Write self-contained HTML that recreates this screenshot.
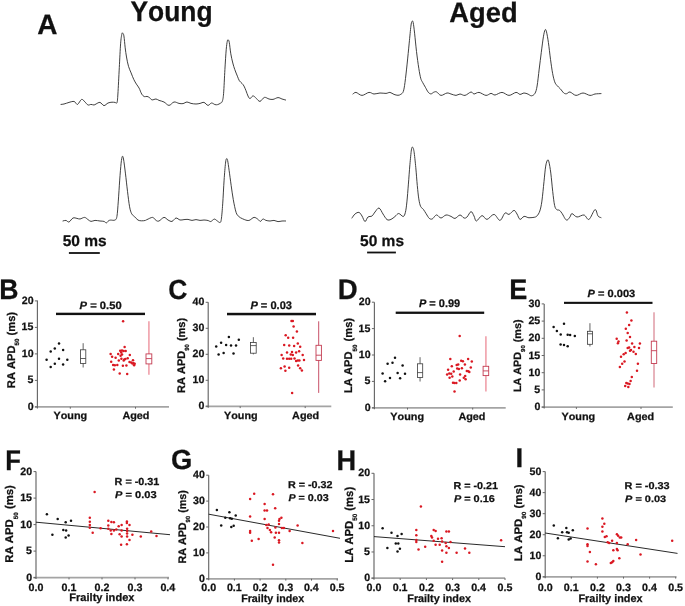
<!DOCTYPE html>
<html><head><meta charset="utf-8"><title>Figure</title>
<style>
html,body{margin:0;padding:0;background:#fff;}
body{width:685px;height:606px;overflow:hidden;}
svg{display:block;will-change:transform;font-family:"Liberation Sans", sans-serif;font-weight:bold;font-kerning:none;}
text{font-kerning:none;text-rendering:geometricPrecision;stroke:#111;stroke-width:0.25px;}
</style></head>
<body>
<svg width="685" height="606" viewBox="0 0 685 606">
<rect width="685" height="606" fill="#fff"/>
<path d="M61.00,104.40 C61.50,104.33 62.67,104.33 64.00,104.00 C65.33,103.67 67.50,102.83 69.00,102.40 C70.50,101.97 72.00,101.47 73.00,101.40 C74.00,101.33 74.23,101.50 75.00,102.00 C75.77,102.50 76.50,104.83 77.60,104.40 C78.70,103.97 80.37,99.80 81.60,99.40 C82.83,99.00 83.93,101.07 85.00,102.00 C86.07,102.93 87.00,104.60 88.00,105.00 C89.00,105.40 90.00,104.40 91.00,104.40 C92.00,104.40 93.17,105.07 94.00,105.00 C94.83,104.93 95.00,104.43 96.00,104.00 C97.00,103.57 98.67,102.13 100.00,102.40 C101.33,102.67 102.67,105.50 104.00,105.60 C105.33,105.70 106.67,103.57 108.00,103.00 C109.33,102.43 110.83,102.30 112.00,102.20 C113.17,102.10 114.17,102.33 115.00,102.40 C115.83,102.47 116.52,104.00 117.00,102.60 C117.48,101.20 117.52,99.83 117.90,94.00 C118.28,88.17 118.85,75.97 119.30,67.60 C119.75,59.23 120.17,49.42 120.60,43.80 C121.03,38.18 121.53,35.65 121.90,33.90 C122.27,32.15 122.47,32.97 122.80,33.30 C123.13,33.63 123.50,33.48 123.90,35.90 C124.30,38.32 124.77,44.28 125.20,47.80 C125.63,51.32 125.95,53.92 126.50,57.00 C127.05,60.08 127.73,63.65 128.50,66.30 C129.27,68.95 130.22,70.70 131.10,72.90 C131.98,75.10 132.92,77.63 133.80,79.50 C134.68,81.37 135.52,82.67 136.40,84.10 C137.28,85.53 138.22,86.45 139.10,88.10 C139.98,89.75 140.83,92.58 141.70,94.00 C142.57,95.42 143.42,96.20 144.30,96.60 C145.18,97.00 146.12,96.22 147.00,96.40 C147.88,96.58 148.77,97.12 149.60,97.70 C150.43,98.28 150.93,99.68 152.00,99.90 C153.07,100.12 154.83,98.92 156.00,99.00 C157.17,99.08 157.67,99.90 159.00,100.40 C160.33,100.90 162.33,101.17 164.00,102.00 C165.67,102.83 167.33,105.40 169.00,105.40 C170.67,105.40 172.33,102.33 174.00,102.00 C175.67,101.67 177.50,103.13 179.00,103.40 C180.50,103.67 181.67,103.83 183.00,103.60 C184.33,103.37 185.67,102.03 187.00,102.00 C188.33,101.97 189.50,103.07 191.00,103.40 C192.50,103.73 194.50,104.00 196.00,104.00 C197.50,104.00 198.67,103.67 200.00,103.40 C201.33,103.13 202.67,102.07 204.00,102.40 C205.33,102.73 206.75,105.30 208.00,105.40 C209.25,105.50 210.33,103.13 211.50,103.00 C212.67,102.87 213.98,104.33 215.00,104.60 C216.02,104.87 216.72,104.82 217.60,104.60 C218.48,104.38 219.52,103.85 220.30,103.30 C221.08,102.75 221.75,102.95 222.30,101.30 C222.85,99.65 223.17,98.68 223.60,93.40 C224.03,88.12 224.47,76.87 224.90,69.60 C225.33,62.33 225.80,54.53 226.20,49.80 C226.60,45.07 226.97,42.85 227.30,41.20 C227.63,39.55 227.87,39.68 228.20,39.90 C228.53,40.12 228.87,40.18 229.30,42.50 C229.73,44.82 230.22,50.38 230.80,53.80 C231.38,57.22 232.13,60.37 232.80,63.00 C233.47,65.63 234.03,67.40 234.80,69.60 C235.57,71.80 236.63,74.33 237.40,76.20 C238.17,78.07 238.62,79.58 239.40,80.80 C240.18,82.02 241.33,82.62 242.10,83.50 C242.87,84.38 243.35,84.90 244.00,86.10 C244.65,87.30 245.33,89.05 246.00,90.70 C246.67,92.35 247.33,94.68 248.00,96.00 C248.67,97.32 249.23,98.60 250.00,98.60 C250.77,98.60 251.83,96.32 252.60,96.00 C253.37,95.68 253.95,96.27 254.60,96.70 C255.25,97.13 255.60,97.82 256.50,98.60 C257.40,99.38 258.68,101.60 260.00,101.40 C261.32,101.20 262.90,97.80 264.40,97.40 C265.90,97.00 267.57,98.67 269.00,99.00 C270.43,99.33 271.50,99.63 273.00,99.40 C274.50,99.17 276.50,97.67 278.00,97.60 C279.50,97.53 280.73,98.60 282.00,99.00 C283.27,99.40 285.00,99.83 285.60,100.00" fill="none" stroke="#2a2a2a" stroke-width="0.9" stroke-linejoin="round" stroke-linecap="round"/>
<path d="M353.00,94.00 C353.50,93.73 354.50,92.17 356.00,92.40 C357.50,92.63 359.83,95.40 362.00,95.40 C364.17,95.40 367.00,92.63 369.00,92.40 C371.00,92.17 372.17,93.90 374.00,94.00 C375.83,94.10 378.00,93.10 380.00,93.00 C382.00,92.90 384.33,93.50 386.00,93.40 C387.67,93.30 388.67,92.23 390.00,92.40 C391.33,92.57 392.67,93.92 394.00,94.40 C395.33,94.88 396.87,95.32 398.00,95.30 C399.13,95.28 399.92,94.93 400.80,94.30 C401.68,93.67 402.60,93.48 403.30,91.50 C404.00,89.52 404.37,86.97 405.00,82.40 C405.63,77.83 406.40,70.65 407.10,64.10 C407.80,57.55 408.57,49.42 409.20,43.10 C409.83,36.78 410.43,29.83 410.90,26.20 C411.37,22.57 411.62,21.88 412.00,21.30 C412.38,20.72 412.77,20.72 413.20,22.70 C413.63,24.68 414.05,28.40 414.60,33.20 C415.15,38.00 415.80,45.65 416.50,51.50 C417.20,57.35 418.10,63.85 418.80,68.30 C419.50,72.75 420.07,75.85 420.70,78.20 C421.33,80.55 421.82,80.88 422.60,82.40 C423.38,83.92 424.47,85.67 425.40,87.30 C426.33,88.93 427.27,91.10 428.20,92.20 C429.13,93.30 430.07,93.90 431.00,93.90 C431.93,93.90 432.87,92.53 433.80,92.20 C434.73,91.87 435.40,91.37 436.60,91.90 C437.80,92.43 439.27,95.22 441.00,95.40 C442.73,95.58 445.33,93.23 447.00,93.00 C448.67,92.77 449.50,93.60 451.00,94.00 C452.50,94.40 454.50,95.40 456.00,95.40 C457.50,95.40 458.50,94.00 460.00,94.00 C461.50,94.00 463.17,95.73 465.00,95.40 C466.83,95.07 469.50,92.23 471.00,92.00 C472.50,91.77 472.67,93.93 474.00,94.00 C475.33,94.07 477.00,92.17 479.00,92.40 C481.00,92.63 484.00,95.23 486.00,95.40 C488.00,95.57 489.50,93.47 491.00,93.40 C492.50,93.33 493.17,95.17 495.00,95.00 C496.83,94.83 499.67,92.33 502.00,92.40 C504.33,92.47 506.67,95.40 509.00,95.40 C511.33,95.40 514.17,92.57 516.00,92.40 C517.83,92.23 518.67,94.30 520.00,94.40 C521.33,94.50 522.67,93.05 524.00,93.00 C525.33,92.95 526.75,93.63 528.00,94.10 C529.25,94.57 530.33,95.93 531.50,95.80 C532.67,95.67 534.07,94.93 535.00,93.30 C535.93,91.67 536.40,90.03 537.10,86.00 C537.80,81.97 538.50,74.72 539.20,69.10 C539.90,63.48 540.60,57.68 541.30,52.30 C542.00,46.92 542.77,40.55 543.40,36.80 C544.03,33.05 544.58,30.62 545.10,29.80 C545.62,28.98 545.95,29.78 546.50,31.90 C547.05,34.02 547.73,37.93 548.40,42.50 C549.07,47.07 549.80,54.17 550.50,59.30 C551.20,64.43 551.90,69.55 552.60,73.30 C553.30,77.05 554.00,79.80 554.70,81.80 C555.40,83.80 555.87,84.13 556.80,85.30 C557.73,86.47 559.13,87.52 560.30,88.80 C561.47,90.08 562.75,92.18 563.80,93.00 C564.85,93.82 565.57,93.87 566.60,93.70 C567.63,93.53 568.43,91.72 570.00,92.00 C571.57,92.28 573.83,95.23 576.00,95.40 C578.17,95.57 580.67,93.00 583.00,93.00 C585.33,93.00 588.00,95.23 590.00,95.40 C592.00,95.57 593.17,94.30 595.00,94.00 C596.83,93.70 600.00,93.67 601.00,93.60" fill="none" stroke="#2a2a2a" stroke-width="0.9" stroke-linejoin="round" stroke-linecap="round"/>
<path d="M63.00,221.00 C63.50,220.90 65.00,220.23 66.00,220.40 C67.00,220.57 67.83,222.40 69.00,222.00 C70.17,221.60 71.67,218.60 73.00,218.00 C74.33,217.40 75.83,218.23 77.00,218.40 C78.17,218.57 78.73,219.17 80.00,219.00 C81.27,218.83 83.27,217.30 84.60,217.40 C85.93,217.50 86.93,218.93 88.00,219.60 C89.07,220.27 89.83,221.27 91.00,221.40 C92.17,221.53 93.50,220.47 95.00,220.40 C96.50,220.33 98.50,220.83 100.00,221.00 C101.50,221.17 102.93,221.08 104.00,221.40 C105.07,221.72 105.65,223.00 106.40,222.90 C107.15,222.80 107.80,221.27 108.50,220.80 C109.20,220.33 109.55,220.22 110.60,220.10 C111.65,219.98 113.75,220.68 114.80,220.10 C115.85,219.52 116.32,219.77 116.90,216.60 C117.48,213.43 117.83,207.18 118.30,201.10 C118.77,195.02 119.23,186.42 119.70,180.10 C120.17,173.78 120.67,167.13 121.10,163.20 C121.53,159.27 121.90,157.20 122.30,156.50 C122.70,155.80 122.98,156.23 123.50,159.00 C124.02,161.77 124.73,167.72 125.40,173.10 C126.07,178.48 126.80,185.68 127.50,191.30 C128.20,196.92 128.90,203.05 129.60,206.80 C130.30,210.55 130.88,212.17 131.70,213.80 C132.52,215.43 133.45,215.55 134.50,216.60 C135.55,217.65 136.83,219.40 138.00,220.10 C139.17,220.80 140.33,220.73 141.50,220.80 C142.67,220.87 144.08,220.70 145.00,220.50 C145.92,220.30 145.73,220.12 147.00,219.60 C148.27,219.08 151.10,217.27 152.60,217.40 C154.10,217.53 154.93,219.80 156.00,220.40 C157.07,221.00 157.67,221.50 159.00,221.00 C160.33,220.50 162.50,217.57 164.00,217.40 C165.50,217.23 166.67,219.33 168.00,220.00 C169.33,220.67 170.67,221.73 172.00,221.40 C173.33,221.07 174.67,218.23 176.00,218.00 C177.33,217.77 178.67,219.73 180.00,220.00 C181.33,220.27 182.67,219.70 184.00,219.60 C185.33,219.50 186.67,219.27 188.00,219.40 C189.33,219.53 190.67,220.37 192.00,220.40 C193.33,220.43 194.67,219.60 196.00,219.60 C197.33,219.60 198.67,220.33 200.00,220.40 C201.33,220.47 202.67,219.98 204.00,220.00 C205.33,220.02 206.87,220.25 208.00,220.50 C209.13,220.75 209.75,221.73 210.80,221.50 C211.85,221.27 213.25,219.22 214.30,219.10 C215.35,218.98 216.17,220.23 217.10,220.80 C218.03,221.37 219.20,222.73 219.90,222.50 C220.60,222.27 220.83,222.50 221.30,219.40 C221.77,216.30 222.23,210.45 222.70,203.90 C223.17,197.35 223.63,186.88 224.10,180.10 C224.57,173.32 225.10,166.75 225.50,163.20 C225.90,159.65 226.15,159.27 226.50,158.80 C226.85,158.33 227.17,158.48 227.60,160.40 C228.03,162.32 228.50,166.08 229.10,170.30 C229.70,174.52 230.50,180.80 231.20,185.70 C231.90,190.60 232.48,195.25 233.30,199.70 C234.12,204.15 235.17,209.58 236.10,212.40 C237.03,215.22 237.85,215.55 238.90,216.60 C239.95,217.65 241.23,218.12 242.40,218.70 C243.57,219.28 244.97,219.80 245.90,220.10 C246.83,220.40 247.32,220.52 248.00,220.50 C248.68,220.48 249.00,220.52 250.00,220.00 C251.00,219.48 252.73,217.57 254.00,217.40 C255.27,217.23 256.53,218.33 257.60,219.00 C258.67,219.67 259.50,221.40 260.40,221.40 C261.30,221.40 262.07,219.17 263.00,219.00 C263.93,218.83 264.83,220.07 266.00,220.40 C267.17,220.73 268.67,221.00 270.00,221.00 C271.33,221.00 272.67,220.30 274.00,220.40 C275.33,220.50 276.67,221.50 278.00,221.60 C279.33,221.70 280.73,221.10 282.00,221.00 C283.27,220.90 285.00,221.00 285.60,221.00" fill="none" stroke="#2a2a2a" stroke-width="0.9" stroke-linejoin="round" stroke-linecap="round"/>
<path d="M352.00,218.00 C352.50,217.33 353.83,214.93 355.00,214.00 C356.17,213.07 357.83,212.07 359.00,212.40 C360.17,212.73 361.00,214.47 362.00,216.00 C363.00,217.53 364.00,221.43 365.00,221.60 C366.00,221.77 366.83,217.93 368.00,217.00 C369.17,216.07 370.83,216.83 372.00,216.00 C373.17,215.17 373.83,213.33 375.00,212.00 C376.17,210.67 377.67,207.67 379.00,208.00 C380.33,208.33 381.67,212.07 383.00,214.00 C384.33,215.93 385.67,218.70 387.00,219.60 C388.33,220.50 389.67,219.92 391.00,219.40 C392.33,218.88 393.72,217.48 395.00,216.50 C396.28,215.52 397.33,213.50 398.70,213.50 C400.07,213.50 402.08,216.70 403.20,216.50 C404.32,216.30 404.78,214.73 405.40,212.30 C406.02,209.87 406.40,206.60 406.90,201.90 C407.40,197.20 407.90,190.30 408.40,184.10 C408.90,177.90 409.40,170.40 409.90,164.70 C410.40,159.00 410.97,152.82 411.40,149.90 C411.83,146.98 412.07,146.95 412.50,147.20 C412.93,147.45 413.45,147.98 414.00,151.40 C414.55,154.82 415.25,162.00 415.80,167.70 C416.35,173.40 416.80,180.40 417.30,185.60 C417.80,190.80 418.25,195.43 418.80,198.90 C419.35,202.37 419.85,204.67 420.60,206.40 C421.35,208.13 422.37,208.07 423.30,209.30 C424.23,210.53 425.22,212.30 426.20,213.80 C427.18,215.30 428.20,217.43 429.20,218.30 C430.20,219.17 431.23,219.38 432.20,219.00 C433.17,218.62 434.20,216.67 435.00,216.00 C435.80,215.33 436.00,214.67 437.00,215.00 C438.00,215.33 439.50,218.00 441.00,218.00 C442.50,218.00 444.33,215.27 446.00,215.00 C447.67,214.73 449.50,215.83 451.00,216.40 C452.50,216.97 453.50,218.63 455.00,218.40 C456.50,218.17 458.50,215.07 460.00,215.00 C461.50,214.93 462.83,217.67 464.00,218.00 C465.17,218.33 465.83,218.07 467.00,217.00 C468.17,215.93 469.83,211.77 471.00,211.60 C472.17,211.43 473.10,214.43 474.00,216.00 C474.90,217.57 475.07,221.07 476.40,221.00 C477.73,220.93 480.23,215.87 482.00,215.60 C483.77,215.33 485.00,219.60 487.00,219.40 C489.00,219.20 491.83,214.23 494.00,214.40 C496.17,214.57 498.17,220.63 500.00,220.40 C501.83,220.17 503.50,214.00 505.00,213.00 C506.50,212.00 507.50,214.83 509.00,214.40 C510.50,213.97 512.67,210.47 514.00,210.40 C515.33,210.33 516.00,212.50 517.00,214.00 C518.00,215.50 518.83,219.00 520.00,219.40 C521.17,219.80 522.67,216.70 524.00,216.40 C525.33,216.10 527.00,217.38 528.00,217.60 C529.00,217.82 528.97,217.75 530.00,217.70 C531.03,217.65 533.03,217.60 534.20,217.30 C535.37,217.00 536.07,216.95 537.00,215.90 C537.93,214.85 538.98,213.47 539.80,211.00 C540.62,208.53 541.20,206.02 541.90,201.10 C542.60,196.18 543.37,187.33 544.00,181.50 C544.63,175.67 545.12,169.65 545.70,166.10 C546.28,162.55 546.97,160.92 547.50,160.20 C548.03,159.48 548.35,159.65 548.90,161.80 C549.45,163.95 550.17,168.18 550.80,173.10 C551.43,178.02 552.07,185.92 552.70,191.30 C553.33,196.68 553.93,202.35 554.60,205.40 C555.27,208.45 555.88,208.78 556.70,209.60 C557.52,210.42 558.57,209.60 559.50,210.30 C560.43,211.00 561.37,212.40 562.30,213.80 C563.23,215.20 564.28,217.65 565.10,218.70 C565.92,219.75 566.38,220.40 567.20,220.10 C568.02,219.80 569.20,217.98 570.00,216.90 C570.80,215.82 570.83,213.58 572.00,213.60 C573.17,213.62 575.00,216.77 577.00,217.00 C579.00,217.23 582.00,214.60 584.00,215.00 C586.00,215.40 587.17,220.30 589.00,219.40 C590.83,218.50 593.50,210.17 595.00,209.60 C596.50,209.03 597.00,214.67 598.00,216.00 C599.00,217.33 600.50,217.33 601.00,217.60" fill="none" stroke="#2a2a2a" stroke-width="0.9" stroke-linejoin="round" stroke-linecap="round"/>
<text transform="translate(37.30,33.50) scale(0.9989,1)" font-size="28.05" fill="#111">A</text>
<text transform="translate(130.45,20.60) scale(1,1.0708)" font-size="26.40" fill="#111">Young</text>
<text transform="translate(449.32,21.60) scale(1,1.0271)" font-size="27.31" fill="#111">Aged</text>
<text transform="translate(62.72,246.35) scale(0.9991,1)" font-size="15.54" fill="#111">50 ms</text>
<text transform="translate(360.02,245.75) scale(0.9991,1)" font-size="15.54" fill="#111">50 ms</text>
<rect x="68.9" y="252.1" width="30.9" height="1.8" fill="#111"/>
<rect x="367.1" y="251.6" width="28.8" height="1.8" fill="#111"/>
<text transform="translate(-0.63,298.70) scale(0.9449,1)" font-size="28.20" fill="#111">B</text>
<line x1="34.9" y1="406.9" x2="169" y2="406.9" stroke="#a4a4a4" stroke-width="1.7"/>
<line x1="37.4" y1="300.6" x2="37.4" y2="408.4" stroke="#666666" stroke-width="1.15"/>
<line x1="34.9" y1="406.9" x2="37.4" y2="406.9" stroke="#666666" stroke-width="1"/>
<text transform="translate(27.64,410.05) scale(1.0000,1)" font-size="10.60" fill="#111">0</text>
<line x1="34.9" y1="380.4" x2="37.4" y2="380.4" stroke="#666666" stroke-width="1"/>
<text transform="translate(27.50,383.49) scale(1.0000,1)" font-size="10.60" fill="#111">5</text>
<line x1="34.9" y1="353.9" x2="37.4" y2="353.9" stroke="#666666" stroke-width="1"/>
<text transform="translate(21.74,357.05) scale(1.0000,1)" font-size="10.60" fill="#111">10</text>
<line x1="34.9" y1="327.4" x2="37.4" y2="327.4" stroke="#666666" stroke-width="1"/>
<text transform="translate(21.60,330.49) scale(1.0000,1)" font-size="10.60" fill="#111">15</text>
<line x1="34.9" y1="300.9" x2="37.4" y2="300.9" stroke="#666666" stroke-width="1"/>
<text transform="translate(21.74,304.05) scale(1.0000,1)" font-size="10.60" fill="#111">20</text>
<line x1="70.3" y1="406.9" x2="70.3" y2="408.7" stroke="#666666" stroke-width="1"/>
<line x1="135.5" y1="406.9" x2="135.5" y2="408.7" stroke="#666666" stroke-width="1"/>
<text transform="translate(53.52,419.09) scale(1.0380,1)" font-size="10.44" fill="#111">Young</text>
<text transform="translate(122.38,419.09) scale(1.0380,1)" font-size="10.44" fill="#111">Aged</text>
<text transform="translate(14.90,388.15) rotate(-90) scale(0.9962,1)" font-size="11.19" fill="#111">RA APD<tspan font-size="6.16" dy="4.48">50</tspan><tspan dy="-4.48"> (ms)</tspan></text>
<rect x="56" y="312.7" width="89" height="2.400000000000034" fill="#111"/>
<text transform="translate(79.60,308.60) scale(1.0465,1)" font-size="10.73" fill="#111"><tspan font-style="italic">P</tspan> = 0.50</text>
<circle cx="46.6" cy="359.7" r="1.25" fill="#111"/>
<circle cx="50.7" cy="351.6" r="1.25" fill="#111"/>
<circle cx="50.7" cy="367.1" r="1.25" fill="#111"/>
<circle cx="54.8" cy="348.6" r="1.25" fill="#111"/>
<circle cx="54.8" cy="363.8" r="1.25" fill="#111"/>
<circle cx="59" cy="343.6" r="1.25" fill="#111"/>
<circle cx="59" cy="358.8" r="1.25" fill="#111"/>
<circle cx="63.1" cy="350" r="1.25" fill="#111"/>
<circle cx="63.1" cy="364.6" r="1.25" fill="#111"/>
<circle cx="67.3" cy="359.7" r="1.25" fill="#111"/>
<line x1="83.15" y1="343.2" x2="83.15" y2="349.8" stroke="#3a3a3a" stroke-width="0.8"/>
<line x1="83.15" y1="363.5" x2="83.15" y2="367.5" stroke="#3a3a3a" stroke-width="0.8"/>
<rect x="80.5" y="349.8" width="5.299999999999997" height="13.699999999999989" fill="none" stroke="#3a3a3a" stroke-width="0.8"/>
<line x1="80.5" y1="358.5" x2="85.8" y2="358.5" stroke="#3a3a3a" stroke-width="0.8"/>
<circle cx="123.1" cy="321.3" r="1.25" fill="#da1822"/>
<circle cx="124.6" cy="347" r="1.25" fill="#da1822"/>
<circle cx="120.2" cy="350.7" r="1.25" fill="#da1822"/>
<circle cx="122" cy="350.5" r="1.25" fill="#da1822"/>
<circle cx="123.7" cy="351" r="1.25" fill="#da1822"/>
<circle cx="125.7" cy="351" r="1.25" fill="#da1822"/>
<circle cx="121.2" cy="352.5" r="1.25" fill="#da1822"/>
<circle cx="110.6" cy="353.9" r="1.25" fill="#da1822"/>
<circle cx="118.2" cy="353.9" r="1.25" fill="#da1822"/>
<circle cx="122" cy="354.5" r="1.25" fill="#da1822"/>
<circle cx="120.6" cy="355.7" r="1.25" fill="#da1822"/>
<circle cx="129.8" cy="355.1" r="1.25" fill="#da1822"/>
<circle cx="112.1" cy="356.8" r="1.25" fill="#da1822"/>
<circle cx="115.6" cy="357.7" r="1.25" fill="#da1822"/>
<circle cx="127.7" cy="358.3" r="1.25" fill="#da1822"/>
<circle cx="121.4" cy="358.8" r="1.25" fill="#da1822"/>
<circle cx="124.3" cy="359.5" r="1.25" fill="#da1822"/>
<circle cx="125.4" cy="359.1" r="1.25" fill="#da1822"/>
<circle cx="118.8" cy="360.6" r="1.25" fill="#da1822"/>
<circle cx="123.7" cy="360.6" r="1.25" fill="#da1822"/>
<circle cx="111.2" cy="361.8" r="1.25" fill="#da1822"/>
<circle cx="129.5" cy="362" r="1.25" fill="#da1822"/>
<circle cx="131.2" cy="362.6" r="1.25" fill="#da1822"/>
<circle cx="133" cy="360.3" r="1.25" fill="#da1822"/>
<circle cx="133.5" cy="363.2" r="1.25" fill="#da1822"/>
<circle cx="132.4" cy="363.4" r="1.25" fill="#da1822"/>
<circle cx="134.7" cy="363.8" r="1.25" fill="#da1822"/>
<circle cx="134.1" cy="365.3" r="1.25" fill="#da1822"/>
<circle cx="113.1" cy="364.9" r="1.25" fill="#da1822"/>
<circle cx="114.8" cy="365.3" r="1.25" fill="#da1822"/>
<circle cx="117.3" cy="364.9" r="1.25" fill="#da1822"/>
<circle cx="122.9" cy="365.8" r="1.25" fill="#da1822"/>
<circle cx="126.4" cy="365.5" r="1.25" fill="#da1822"/>
<circle cx="113.9" cy="369.5" r="1.25" fill="#da1822"/>
<circle cx="119.7" cy="373.4" r="1.25" fill="#da1822"/>
<circle cx="127.2" cy="373.9" r="1.25" fill="#da1822"/>
<line x1="148.9" y1="321.3" x2="148.9" y2="353.9" stroke="#f0a0aa" stroke-width="1.6"/>
<line x1="148.9" y1="363.9" x2="148.9" y2="374.7" stroke="#f0a0aa" stroke-width="1.6"/>
<rect x="146.0" y="353.9" width="5.800000000000011" height="10.0" fill="none" stroke="#c43c52" stroke-width="0.9"/>
<line x1="146.0" y1="358.6" x2="151.8" y2="358.6" stroke="#c43c52" stroke-width="0.9"/>
<text transform="translate(168.21,298.53) scale(0.9558,1)" font-size="27.68" fill="#111">C</text>
<line x1="205.7" y1="406.3" x2="331.3" y2="406.3" stroke="#a4a4a4" stroke-width="1.7"/>
<line x1="208.2" y1="302.2" x2="208.2" y2="407.8" stroke="#666666" stroke-width="1.15"/>
<line x1="205.7" y1="406.3" x2="208.2" y2="406.3" stroke="#666666" stroke-width="1"/>
<text transform="translate(198.44,409.45) scale(1.0000,1)" font-size="10.60" fill="#111">0</text>
<line x1="205.7" y1="380.3" x2="208.2" y2="380.3" stroke="#666666" stroke-width="1"/>
<text transform="translate(192.54,383.45) scale(1.0000,1)" font-size="10.60" fill="#111">10</text>
<line x1="205.7" y1="354.3" x2="208.2" y2="354.3" stroke="#666666" stroke-width="1"/>
<text transform="translate(192.54,357.45) scale(1.0000,1)" font-size="10.60" fill="#111">20</text>
<line x1="205.7" y1="328.3" x2="208.2" y2="328.3" stroke="#666666" stroke-width="1"/>
<text transform="translate(192.54,331.44) scale(1.0000,1)" font-size="10.60" fill="#111">30</text>
<line x1="205.7" y1="302.3" x2="208.2" y2="302.3" stroke="#666666" stroke-width="1"/>
<text transform="translate(192.54,305.45) scale(1.0000,1)" font-size="10.60" fill="#111">40</text>
<line x1="240.2" y1="406.3" x2="240.2" y2="408.1" stroke="#666666" stroke-width="1"/>
<line x1="305.2" y1="406.3" x2="305.2" y2="408.1" stroke="#666666" stroke-width="1"/>
<text transform="translate(223.92,419.09) scale(1.0380,1)" font-size="10.44" fill="#111">Young</text>
<text transform="translate(292.08,419.09) scale(1.0380,1)" font-size="10.44" fill="#111">Aged</text>
<text transform="translate(184.80,392.93) rotate(-90) scale(0.9932,1)" font-size="11.05" fill="#111">RA APD<tspan font-size="6.08" dy="4.42">90</tspan><tspan dy="-4.42"> (ms)</tspan></text>
<rect x="227" y="312.8" width="89" height="2.5" fill="#111"/>
<text transform="translate(250.41,308.78) scale(1.0081,1)" font-size="10.99" fill="#111"><tspan font-style="italic">P</tspan> = 0.03</text>
<circle cx="216.2" cy="346.5" r="1.25" fill="#111"/>
<circle cx="218.6" cy="354.5" r="1.25" fill="#111"/>
<circle cx="221.1" cy="342.7" r="1.25" fill="#111"/>
<circle cx="223.6" cy="352.9" r="1.25" fill="#111"/>
<circle cx="226.1" cy="345.1" r="1.25" fill="#111"/>
<circle cx="228.9" cy="336.9" r="1.25" fill="#111"/>
<circle cx="231" cy="345.6" r="1.25" fill="#111"/>
<circle cx="233.5" cy="353.4" r="1.25" fill="#111"/>
<circle cx="236" cy="345.6" r="1.25" fill="#111"/>
<circle cx="238.8" cy="339.7" r="1.25" fill="#111"/>
<line x1="253.35" y1="337.2" x2="253.35" y2="342.5" stroke="#3a3a3a" stroke-width="0.8"/>
<line x1="253.35" y1="353.2" x2="253.35" y2="354.4" stroke="#3a3a3a" stroke-width="0.8"/>
<rect x="250.5" y="342.5" width="5.699999999999989" height="10.699999999999989" fill="none" stroke="#3a3a3a" stroke-width="0.8"/>
<line x1="250.5" y1="345.6" x2="256.2" y2="345.6" stroke="#3a3a3a" stroke-width="0.8"/>
<circle cx="291.5" cy="320.9" r="1.25" fill="#da1822"/>
<circle cx="292.8" cy="320.9" r="1.25" fill="#da1822"/>
<circle cx="293.6" cy="326.5" r="1.25" fill="#da1822"/>
<circle cx="296.9" cy="331.5" r="1.25" fill="#da1822"/>
<circle cx="285.7" cy="335.3" r="1.25" fill="#da1822"/>
<circle cx="288.2" cy="337.8" r="1.25" fill="#da1822"/>
<circle cx="293.1" cy="337.8" r="1.25" fill="#da1822"/>
<circle cx="297.8" cy="343.5" r="1.25" fill="#da1822"/>
<circle cx="284.2" cy="344.9" r="1.25" fill="#da1822"/>
<circle cx="289.2" cy="345.5" r="1.25" fill="#da1822"/>
<circle cx="294.1" cy="346" r="1.25" fill="#da1822"/>
<circle cx="300.2" cy="346.8" r="1.25" fill="#da1822"/>
<circle cx="299.1" cy="351.3" r="1.25" fill="#da1822"/>
<circle cx="287" cy="352.6" r="1.25" fill="#da1822"/>
<circle cx="292" cy="352.1" r="1.25" fill="#da1822"/>
<circle cx="296.1" cy="352.6" r="1.25" fill="#da1822"/>
<circle cx="281.6" cy="355.1" r="1.25" fill="#da1822"/>
<circle cx="290.8" cy="354.6" r="1.25" fill="#da1822"/>
<circle cx="292.8" cy="355.1" r="1.25" fill="#da1822"/>
<circle cx="302.7" cy="355.1" r="1.25" fill="#da1822"/>
<circle cx="283.2" cy="358.4" r="1.25" fill="#da1822"/>
<circle cx="287" cy="358.7" r="1.25" fill="#da1822"/>
<circle cx="289.2" cy="358.7" r="1.25" fill="#da1822"/>
<circle cx="291.2" cy="358.7" r="1.25" fill="#da1822"/>
<circle cx="294.5" cy="358.4" r="1.25" fill="#da1822"/>
<circle cx="296.1" cy="360.9" r="1.25" fill="#da1822"/>
<circle cx="297.8" cy="360.4" r="1.25" fill="#da1822"/>
<circle cx="299.4" cy="360.4" r="1.25" fill="#da1822"/>
<circle cx="304" cy="360" r="1.25" fill="#da1822"/>
<circle cx="280.9" cy="368.3" r="1.25" fill="#da1822"/>
<circle cx="284.6" cy="366.6" r="1.25" fill="#da1822"/>
<circle cx="289.2" cy="367.8" r="1.25" fill="#da1822"/>
<circle cx="298.1" cy="365.5" r="1.25" fill="#da1822"/>
<circle cx="285.4" cy="370.8" r="1.25" fill="#da1822"/>
<circle cx="300.2" cy="368.3" r="1.25" fill="#da1822"/>
<circle cx="301.9" cy="370.4" r="1.25" fill="#da1822"/>
<circle cx="292.1" cy="392.9" r="1.25" fill="#da1822"/>
<line x1="318.7" y1="321.3" x2="318.7" y2="345.3" stroke="#c85068" stroke-width="1.0"/>
<line x1="318.7" y1="360.4" x2="318.7" y2="392.9" stroke="#c85068" stroke-width="1.0"/>
<rect x="316.0" y="345.3" width="5.399999999999977" height="15.099999999999966" fill="none" stroke="#c43c52" stroke-width="0.9"/>
<line x1="316.0" y1="355.2" x2="321.4" y2="355.2" stroke="#c43c52" stroke-width="0.9"/>
<text transform="translate(337.86,298.80) scale(0.9673,1)" font-size="28.49" fill="#111">D</text>
<line x1="371.9" y1="407.8" x2="505.7" y2="407.8" stroke="#a4a4a4" stroke-width="1.7"/>
<line x1="374.4" y1="302.2" x2="374.4" y2="409.3" stroke="#666666" stroke-width="1.15"/>
<line x1="371.9" y1="407.8" x2="374.4" y2="407.8" stroke="#666666" stroke-width="1"/>
<text transform="translate(364.64,410.95) scale(1.0000,1)" font-size="10.60" fill="#111">0</text>
<line x1="371.9" y1="381.40000000000003" x2="374.4" y2="381.40000000000003" stroke="#666666" stroke-width="1"/>
<text transform="translate(364.50,384.49) scale(1.0000,1)" font-size="10.60" fill="#111">5</text>
<line x1="371.9" y1="355.0" x2="374.4" y2="355.0" stroke="#666666" stroke-width="1"/>
<text transform="translate(358.74,358.15) scale(1.0000,1)" font-size="10.60" fill="#111">10</text>
<line x1="371.9" y1="328.6" x2="374.4" y2="328.6" stroke="#666666" stroke-width="1"/>
<text transform="translate(358.60,331.69) scale(1.0000,1)" font-size="10.60" fill="#111">15</text>
<line x1="371.9" y1="302.20000000000005" x2="374.4" y2="302.20000000000005" stroke="#666666" stroke-width="1"/>
<text transform="translate(358.74,305.35) scale(1.0000,1)" font-size="10.60" fill="#111">20</text>
<line x1="407.5" y1="407.8" x2="407.5" y2="409.6" stroke="#666666" stroke-width="1"/>
<line x1="472.7" y1="407.8" x2="472.7" y2="409.6" stroke="#666666" stroke-width="1"/>
<text transform="translate(390.32,419.79) scale(1.0380,1)" font-size="10.44" fill="#111">Young</text>
<text transform="translate(458.38,419.79) scale(1.0380,1)" font-size="10.44" fill="#111">Aged</text>
<text transform="translate(352.40,392.95) rotate(-90) scale(0.9968,1)" font-size="11.19" fill="#111">LA APD<tspan font-size="6.16" dy="4.48">50</tspan><tspan dy="-4.48"> (ms)</tspan></text>
<rect x="395.7" y="311.6" width="88.5" height="2.2999999999999545" fill="#111"/>
<text transform="translate(418.91,307.29) scale(0.9989,1)" font-size="11.02" fill="#111"><tspan font-style="italic">P</tspan> = 0.99</text>
<circle cx="382.6" cy="373.4" r="1.25" fill="#111"/>
<circle cx="385.1" cy="381.2" r="1.25" fill="#111"/>
<circle cx="387.6" cy="363.8" r="1.25" fill="#111"/>
<circle cx="390" cy="377.9" r="1.25" fill="#111"/>
<circle cx="392.5" cy="362.7" r="1.25" fill="#111"/>
<circle cx="395" cy="357.7" r="1.25" fill="#111"/>
<circle cx="397.6" cy="372.9" r="1.25" fill="#111"/>
<circle cx="400.1" cy="378.3" r="1.25" fill="#111"/>
<circle cx="402.6" cy="365.5" r="1.25" fill="#111"/>
<circle cx="405" cy="373.7" r="1.25" fill="#111"/>
<line x1="420.04999999999995" y1="357.2" x2="420.04999999999995" y2="363.8" stroke="#3a3a3a" stroke-width="0.8"/>
<line x1="420.04999999999995" y1="377.5" x2="420.04999999999995" y2="381.5" stroke="#3a3a3a" stroke-width="0.8"/>
<rect x="417.4" y="363.8" width="5.300000000000011" height="13.699999999999989" fill="none" stroke="#3a3a3a" stroke-width="0.8"/>
<line x1="417.4" y1="372.6" x2="422.7" y2="372.6" stroke="#3a3a3a" stroke-width="0.8"/>
<circle cx="459.7" cy="336.1" r="1.25" fill="#da1822"/>
<circle cx="450.3" cy="359" r="1.25" fill="#da1822"/>
<circle cx="451.8" cy="366.3" r="1.25" fill="#da1822"/>
<circle cx="456.7" cy="364.9" r="1.25" fill="#da1822"/>
<circle cx="458.2" cy="364.5" r="1.25" fill="#da1822"/>
<circle cx="461.2" cy="360.8" r="1.25" fill="#da1822"/>
<circle cx="462.9" cy="361.2" r="1.25" fill="#da1822"/>
<circle cx="464.9" cy="364.5" r="1.25" fill="#da1822"/>
<circle cx="468.1" cy="359" r="1.25" fill="#da1822"/>
<circle cx="471.8" cy="361.5" r="1.25" fill="#da1822"/>
<circle cx="448.1" cy="369.7" r="1.25" fill="#da1822"/>
<circle cx="453.7" cy="371.5" r="1.25" fill="#da1822"/>
<circle cx="457.2" cy="368.5" r="1.25" fill="#da1822"/>
<circle cx="458.9" cy="368.9" r="1.25" fill="#da1822"/>
<circle cx="461.9" cy="368.2" r="1.25" fill="#da1822"/>
<circle cx="470.8" cy="367.4" r="1.25" fill="#da1822"/>
<circle cx="447.1" cy="374.6" r="1.25" fill="#da1822"/>
<circle cx="449.3" cy="373.4" r="1.25" fill="#da1822"/>
<circle cx="451.2" cy="373.8" r="1.25" fill="#da1822"/>
<circle cx="452.3" cy="376.6" r="1.25" fill="#da1822"/>
<circle cx="449.6" cy="377.8" r="1.25" fill="#da1822"/>
<circle cx="460.1" cy="374.6" r="1.25" fill="#da1822"/>
<circle cx="466.8" cy="370.9" r="1.25" fill="#da1822"/>
<circle cx="468.3" cy="371.2" r="1.25" fill="#da1822"/>
<circle cx="469.3" cy="371.9" r="1.25" fill="#da1822"/>
<circle cx="465.2" cy="376.1" r="1.25" fill="#da1822"/>
<circle cx="463.8" cy="377.8" r="1.25" fill="#da1822"/>
<circle cx="465.6" cy="379.3" r="1.25" fill="#da1822"/>
<circle cx="459.7" cy="380.4" r="1.25" fill="#da1822"/>
<circle cx="453" cy="382.7" r="1.25" fill="#da1822"/>
<circle cx="454.5" cy="383" r="1.25" fill="#da1822"/>
<circle cx="456.3" cy="383" r="1.25" fill="#da1822"/>
<circle cx="454.5" cy="391.6" r="1.25" fill="#da1822"/>
<line x1="485.9" y1="336.3" x2="485.9" y2="366.3" stroke="#f0a0aa" stroke-width="1.6"/>
<line x1="485.9" y1="375.6" x2="485.9" y2="391.6" stroke="#f0a0aa" stroke-width="1.6"/>
<rect x="483.1" y="366.3" width="5.599999999999966" height="9.300000000000011" fill="none" stroke="#c43c52" stroke-width="0.9"/>
<line x1="483.1" y1="370.9" x2="488.7" y2="370.9" stroke="#c43c52" stroke-width="0.9"/>
<text transform="translate(509.19,298.80) scale(0.9608,1)" font-size="28.20" fill="#111">E</text>
<line x1="541.7" y1="407.1" x2="672.8" y2="407.1" stroke="#a4a4a4" stroke-width="1.7"/>
<line x1="544.2" y1="303.9" x2="544.2" y2="408.6" stroke="#666666" stroke-width="1.15"/>
<line x1="541.7" y1="407.1" x2="544.2" y2="407.1" stroke="#666666" stroke-width="1"/>
<text transform="translate(534.44,410.25) scale(1.0000,1)" font-size="10.60" fill="#111">0</text>
<line x1="541.7" y1="389.90000000000003" x2="544.2" y2="389.90000000000003" stroke="#666666" stroke-width="1"/>
<text transform="translate(534.30,392.99) scale(1.0000,1)" font-size="10.60" fill="#111">5</text>
<line x1="541.7" y1="372.70000000000005" x2="544.2" y2="372.70000000000005" stroke="#666666" stroke-width="1"/>
<text transform="translate(528.54,375.85) scale(1.0000,1)" font-size="10.60" fill="#111">10</text>
<line x1="541.7" y1="355.5" x2="544.2" y2="355.5" stroke="#666666" stroke-width="1"/>
<text transform="translate(528.40,358.59) scale(1.0000,1)" font-size="10.60" fill="#111">15</text>
<line x1="541.7" y1="338.3" x2="544.2" y2="338.3" stroke="#666666" stroke-width="1"/>
<text transform="translate(528.54,341.45) scale(1.0000,1)" font-size="10.60" fill="#111">20</text>
<line x1="541.7" y1="321.1" x2="544.2" y2="321.1" stroke="#666666" stroke-width="1"/>
<text transform="translate(528.40,324.25) scale(1.0000,1)" font-size="10.60" fill="#111">25</text>
<line x1="541.7" y1="303.90000000000003" x2="544.2" y2="303.90000000000003" stroke="#666666" stroke-width="1"/>
<text transform="translate(528.54,307.04) scale(1.0000,1)" font-size="10.60" fill="#111">30</text>
<line x1="576.4" y1="407.1" x2="576.4" y2="408.90000000000003" stroke="#666666" stroke-width="1"/>
<line x1="641" y1="407.1" x2="641" y2="408.90000000000003" stroke="#666666" stroke-width="1"/>
<text transform="translate(561.42,419.59) scale(1.0380,1)" font-size="10.44" fill="#111">Young</text>
<text transform="translate(627.08,419.59) scale(1.0380,1)" font-size="10.44" fill="#111">Aged</text>
<text transform="translate(520.90,392.12) rotate(-90) scale(1.0186,1)" font-size="10.61" fill="#111">LA APD<tspan font-size="5.84" dy="4.24">90</tspan><tspan dy="-4.24"> (ms)</tspan></text>
<rect x="564" y="301.8" width="88.5" height="2.099999999999966" fill="#111"/>
<text transform="translate(587.61,297.08) scale(1.0612,1)" font-size="10.43" fill="#111"><tspan font-style="italic">P</tspan> = 0.003</text>
<circle cx="553.6" cy="327" r="1.25" fill="#111"/>
<circle cx="556.9" cy="331.1" r="1.25" fill="#111"/>
<circle cx="560.7" cy="334.4" r="1.25" fill="#111"/>
<circle cx="564" cy="323.7" r="1.25" fill="#111"/>
<circle cx="560.6" cy="344.6" r="1.25" fill="#111"/>
<circle cx="564" cy="345.1" r="1.25" fill="#111"/>
<circle cx="567.7" cy="346.3" r="1.25" fill="#111"/>
<circle cx="567.7" cy="334.7" r="1.25" fill="#111"/>
<circle cx="570.1" cy="334.9" r="1.25" fill="#111"/>
<circle cx="574.8" cy="336.1" r="1.25" fill="#111"/>
<line x1="589.95" y1="323.2" x2="589.95" y2="331.3" stroke="#3a3a3a" stroke-width="0.8"/>
<line x1="589.95" y1="344.3" x2="589.95" y2="346.5" stroke="#3a3a3a" stroke-width="0.8"/>
<rect x="587.4" y="331.3" width="5.100000000000023" height="13.0" fill="none" stroke="#3a3a3a" stroke-width="0.8"/>
<line x1="587.4" y1="333.8" x2="592.5" y2="333.8" stroke="#3a3a3a" stroke-width="0.8"/>
<circle cx="626.9" cy="312.5" r="1.25" fill="#da1822"/>
<circle cx="631.4" cy="320.4" r="1.25" fill="#da1822"/>
<circle cx="629.1" cy="324.9" r="1.25" fill="#da1822"/>
<circle cx="625.8" cy="328.7" r="1.25" fill="#da1822"/>
<circle cx="627.7" cy="332.9" r="1.25" fill="#da1822"/>
<circle cx="630" cy="336.9" r="1.25" fill="#da1822"/>
<circle cx="616.7" cy="338.7" r="1.25" fill="#da1822"/>
<circle cx="626.6" cy="340.4" r="1.25" fill="#da1822"/>
<circle cx="618.5" cy="341.6" r="1.25" fill="#da1822"/>
<circle cx="617.9" cy="343.3" r="1.25" fill="#da1822"/>
<circle cx="632.1" cy="343.6" r="1.25" fill="#da1822"/>
<circle cx="639.9" cy="343.6" r="1.25" fill="#da1822"/>
<circle cx="627.7" cy="347.9" r="1.25" fill="#da1822"/>
<circle cx="629.1" cy="347.6" r="1.25" fill="#da1822"/>
<circle cx="634.4" cy="347.1" r="1.25" fill="#da1822"/>
<circle cx="639" cy="347.9" r="1.25" fill="#da1822"/>
<circle cx="631" cy="349.9" r="1.25" fill="#da1822"/>
<circle cx="630" cy="350.8" r="1.25" fill="#da1822"/>
<circle cx="633.5" cy="351.7" r="1.25" fill="#da1822"/>
<circle cx="635.8" cy="354" r="1.25" fill="#da1822"/>
<circle cx="625.6" cy="352.9" r="1.25" fill="#da1822"/>
<circle cx="623.7" cy="354.3" r="1.25" fill="#da1822"/>
<circle cx="621" cy="356.8" r="1.25" fill="#da1822"/>
<circle cx="624.5" cy="361.4" r="1.25" fill="#da1822"/>
<circle cx="622.2" cy="363.7" r="1.25" fill="#da1822"/>
<circle cx="619.9" cy="367" r="1.25" fill="#da1822"/>
<circle cx="637.9" cy="363.7" r="1.25" fill="#da1822"/>
<circle cx="637" cy="370.7" r="1.25" fill="#da1822"/>
<circle cx="631.8" cy="377.1" r="1.25" fill="#da1822"/>
<circle cx="630.6" cy="381.1" r="1.25" fill="#da1822"/>
<circle cx="626.3" cy="382.9" r="1.25" fill="#da1822"/>
<circle cx="627.7" cy="383.4" r="1.25" fill="#da1822"/>
<circle cx="629.5" cy="384.1" r="1.25" fill="#da1822"/>
<circle cx="625.2" cy="386" r="1.25" fill="#da1822"/>
<circle cx="628.3" cy="387" r="1.25" fill="#da1822"/>
<line x1="654.0" y1="312.3" x2="654.0" y2="341.2" stroke="#d06878" stroke-width="1.0"/>
<line x1="654.0" y1="363.5" x2="654.0" y2="387.5" stroke="#d06878" stroke-width="1.0"/>
<rect x="651.3" y="341.2" width="5.400000000000091" height="22.30000000000001" fill="none" stroke="#c43c52" stroke-width="0.9"/>
<line x1="651.3" y1="350.7" x2="656.7" y2="350.7" stroke="#c43c52" stroke-width="0.9"/>
<text transform="translate(5.19,469.70) scale(0.8995,1)" font-size="28.49" fill="#111">F</text>
<line x1="33.5" y1="577.6" x2="169" y2="577.6" stroke="#a4a4a4" stroke-width="1.7"/>
<line x1="36.0" y1="471.6" x2="36.0" y2="579.1" stroke="#666666" stroke-width="1.15"/>
<line x1="33.5" y1="577.6" x2="36.0" y2="577.6" stroke="#666666" stroke-width="1"/>
<text transform="translate(26.24,580.75) scale(1.0000,1)" font-size="10.60" fill="#111">0</text>
<line x1="33.5" y1="551.1" x2="36.0" y2="551.1" stroke="#666666" stroke-width="1"/>
<text transform="translate(26.10,554.19) scale(1.0000,1)" font-size="10.60" fill="#111">5</text>
<line x1="33.5" y1="524.6" x2="36.0" y2="524.6" stroke="#666666" stroke-width="1"/>
<text transform="translate(20.34,527.75) scale(1.0000,1)" font-size="10.60" fill="#111">10</text>
<line x1="33.5" y1="498.1" x2="36.0" y2="498.1" stroke="#666666" stroke-width="1"/>
<text transform="translate(20.20,501.19) scale(1.0000,1)" font-size="10.60" fill="#111">15</text>
<line x1="33.5" y1="471.6" x2="36.0" y2="471.6" stroke="#666666" stroke-width="1"/>
<text transform="translate(20.34,474.75) scale(1.0000,1)" font-size="10.60" fill="#111">20</text>
<line x1="69.0" y1="577.6" x2="69.0" y2="579.4" stroke="#666666" stroke-width="1"/>
<line x1="102.0" y1="577.6" x2="102.0" y2="579.4" stroke="#666666" stroke-width="1"/>
<line x1="135.0" y1="577.6" x2="135.0" y2="579.4" stroke="#666666" stroke-width="1"/>
<line x1="168.0" y1="577.6" x2="168.0" y2="579.4" stroke="#666666" stroke-width="1"/>
<text transform="translate(28.57,590.60) scale(1.0000,1)" font-size="10.70" fill="#111">0.0</text>
<text transform="translate(61.50,590.60) scale(1.0000,1)" font-size="10.70" fill="#111">0.1</text>
<text transform="translate(94.57,590.60) scale(1.0000,1)" font-size="10.70" fill="#111">0.2</text>
<text transform="translate(127.54,590.58) scale(1.0000,1)" font-size="10.70" fill="#111">0.3</text>
<text transform="translate(160.38,590.60) scale(1.0000,1)" font-size="10.70" fill="#111">0.4</text>
<text transform="translate(69.26,600.93) scale(1.0118,1)" font-size="10.94" fill="#111">Frailty index</text>
<text transform="translate(13.10,562.76) rotate(-90) scale(1.0148,1)" font-size="11.19" fill="#111">RA APD<tspan font-size="6.16" dy="4.48">50</tspan><tspan dy="-4.48"> (ms)</tspan></text>
<text transform="translate(114.58,484.78) scale(1.0520,1)" font-size="10.29" fill="#111">R = -0.31</text>
<text transform="translate(115.11,498.29) scale(1.1233,1)" font-size="9.87" fill="#111"><tspan font-style="italic">P</tspan> = 0.03</text>
<line x1="36.0" y1="522.2" x2="170" y2="534.7" stroke="#111" stroke-width="0.9"/>
<circle cx="46.9" cy="514.2" r="1.25" fill="#111"/>
<circle cx="52.4" cy="534.7" r="1.25" fill="#111"/>
<circle cx="57.7" cy="519" r="1.25" fill="#111"/>
<circle cx="63.3" cy="529.9" r="1.25" fill="#111"/>
<circle cx="65.7" cy="522.2" r="1.25" fill="#111"/>
<circle cx="66.1" cy="530.4" r="1.25" fill="#111"/>
<circle cx="65.7" cy="537.6" r="1.25" fill="#111"/>
<circle cx="68.6" cy="535.4" r="1.25" fill="#111"/>
<circle cx="71" cy="520.7" r="1.25" fill="#111"/>
<circle cx="94.6" cy="492" r="1.25" fill="#da1822"/>
<circle cx="89.8" cy="517.8" r="1.25" fill="#da1822"/>
<circle cx="89.8" cy="521.8" r="1.25" fill="#da1822"/>
<circle cx="89.8" cy="524.9" r="1.25" fill="#da1822"/>
<circle cx="89.8" cy="527.7" r="1.25" fill="#da1822"/>
<circle cx="92.7" cy="532.8" r="1.25" fill="#da1822"/>
<circle cx="100.6" cy="528.2" r="1.25" fill="#da1822"/>
<circle cx="108.3" cy="520.7" r="1.25" fill="#da1822"/>
<circle cx="111.4" cy="521.9" r="1.25" fill="#da1822"/>
<circle cx="113.9" cy="522.2" r="1.25" fill="#da1822"/>
<circle cx="108.3" cy="525.5" r="1.25" fill="#da1822"/>
<circle cx="108.3" cy="528.7" r="1.25" fill="#da1822"/>
<circle cx="110.7" cy="530.4" r="1.25" fill="#da1822"/>
<circle cx="113.9" cy="530.4" r="1.25" fill="#da1822"/>
<circle cx="116.3" cy="529.4" r="1.25" fill="#da1822"/>
<circle cx="111.4" cy="534" r="1.25" fill="#da1822"/>
<circle cx="118.7" cy="526.3" r="1.25" fill="#da1822"/>
<circle cx="121.6" cy="525.1" r="1.25" fill="#da1822"/>
<circle cx="119.6" cy="534.2" r="1.25" fill="#da1822"/>
<circle cx="121.6" cy="530.6" r="1.25" fill="#da1822"/>
<circle cx="121.6" cy="536.6" r="1.25" fill="#da1822"/>
<circle cx="121.1" cy="544.8" r="1.25" fill="#da1822"/>
<circle cx="126.9" cy="521.4" r="1.25" fill="#da1822"/>
<circle cx="126.9" cy="523.1" r="1.25" fill="#da1822"/>
<circle cx="129.5" cy="525.1" r="1.25" fill="#da1822"/>
<circle cx="127.1" cy="528.7" r="1.25" fill="#da1822"/>
<circle cx="127.1" cy="531.1" r="1.25" fill="#da1822"/>
<circle cx="127.1" cy="533.5" r="1.25" fill="#da1822"/>
<circle cx="127.1" cy="536.6" r="1.25" fill="#da1822"/>
<circle cx="129.5" cy="540" r="1.25" fill="#da1822"/>
<circle cx="126.9" cy="544.3" r="1.25" fill="#da1822"/>
<circle cx="132.4" cy="534.7" r="1.25" fill="#da1822"/>
<circle cx="140.8" cy="536.4" r="1.25" fill="#da1822"/>
<circle cx="151.2" cy="531.6" r="1.25" fill="#da1822"/>
<circle cx="156.5" cy="535.9" r="1.25" fill="#da1822"/>
<text transform="translate(171.08,469.43) scale(0.9903,1)" font-size="27.68" fill="#111">G</text>
<line x1="206.2" y1="578.8" x2="338" y2="578.8" stroke="#a4a4a4" stroke-width="1.7"/>
<line x1="208.7" y1="475.2" x2="208.7" y2="580.3" stroke="#666666" stroke-width="1.15"/>
<line x1="206.2" y1="578.8" x2="208.7" y2="578.8" stroke="#666666" stroke-width="1"/>
<text transform="translate(198.94,581.95) scale(1.0000,1)" font-size="10.60" fill="#111">0</text>
<line x1="206.2" y1="552.9" x2="208.7" y2="552.9" stroke="#666666" stroke-width="1"/>
<text transform="translate(193.04,556.05) scale(1.0000,1)" font-size="10.60" fill="#111">10</text>
<line x1="206.2" y1="527.0" x2="208.7" y2="527.0" stroke="#666666" stroke-width="1"/>
<text transform="translate(193.04,530.15) scale(1.0000,1)" font-size="10.60" fill="#111">20</text>
<line x1="206.2" y1="501.09999999999997" x2="208.7" y2="501.09999999999997" stroke="#666666" stroke-width="1"/>
<text transform="translate(193.04,504.24) scale(1.0000,1)" font-size="10.60" fill="#111">30</text>
<line x1="206.2" y1="475.2" x2="208.7" y2="475.2" stroke="#666666" stroke-width="1"/>
<text transform="translate(193.04,478.35) scale(1.0000,1)" font-size="10.60" fill="#111">40</text>
<line x1="234.39999999999998" y1="578.8" x2="234.39999999999998" y2="580.5999999999999" stroke="#666666" stroke-width="1"/>
<line x1="260.09999999999997" y1="578.8" x2="260.09999999999997" y2="580.5999999999999" stroke="#666666" stroke-width="1"/>
<line x1="285.79999999999995" y1="578.8" x2="285.79999999999995" y2="580.5999999999999" stroke="#666666" stroke-width="1"/>
<line x1="311.5" y1="578.8" x2="311.5" y2="580.5999999999999" stroke="#666666" stroke-width="1"/>
<line x1="337.2" y1="578.8" x2="337.2" y2="580.5999999999999" stroke="#666666" stroke-width="1"/>
<text transform="translate(201.27,590.60) scale(1.0000,1)" font-size="10.70" fill="#111">0.0</text>
<text transform="translate(226.90,590.60) scale(1.0000,1)" font-size="10.70" fill="#111">0.1</text>
<text transform="translate(252.67,590.60) scale(1.0000,1)" font-size="10.70" fill="#111">0.2</text>
<text transform="translate(278.34,590.58) scale(1.0000,1)" font-size="10.70" fill="#111">0.3</text>
<text transform="translate(303.88,590.60) scale(1.0000,1)" font-size="10.70" fill="#111">0.4</text>
<text transform="translate(329.70,590.60) scale(1.0000,1)" font-size="10.70" fill="#111">0.5</text>
<text transform="translate(241.18,601.95) scale(0.9869,1)" font-size="10.84" fill="#111">Frailty index</text>
<text transform="translate(185.50,563.52) rotate(-90) scale(0.9846,1)" font-size="10.90" fill="#111">RA APD<tspan font-size="6.00" dy="4.36">90</tspan><tspan dy="-4.36"> (ms)</tspan></text>
<text transform="translate(287.98,487.69) scale(1.0750,1)" font-size="10.01" fill="#111">R = -0.32</text>
<text transform="translate(288.51,500.89) scale(1.0850,1)" font-size="9.87" fill="#111"><tspan font-style="italic">P</tspan> = 0.03</text>
<line x1="208.7" y1="514.2" x2="340" y2="538.3" stroke="#111" stroke-width="0.9"/>
<circle cx="216.9" cy="509.9" r="1.25" fill="#111"/>
<circle cx="221.2" cy="525.5" r="1.25" fill="#111"/>
<circle cx="225.3" cy="517.8" r="1.25" fill="#111"/>
<circle cx="229.4" cy="512.3" r="1.25" fill="#111"/>
<circle cx="230.1" cy="518.3" r="1.25" fill="#111"/>
<circle cx="231.8" cy="518.8" r="1.25" fill="#111"/>
<circle cx="231.3" cy="527" r="1.25" fill="#111"/>
<circle cx="233.7" cy="525.8" r="1.25" fill="#111"/>
<circle cx="235.7" cy="515.4" r="1.25" fill="#111"/>
<circle cx="254.2" cy="493.7" r="1.25" fill="#da1822"/>
<circle cx="250.1" cy="499" r="1.25" fill="#da1822"/>
<circle cx="273" cy="494.2" r="1.25" fill="#da1822"/>
<circle cx="264.6" cy="504.1" r="1.25" fill="#da1822"/>
<circle cx="264.6" cy="510.6" r="1.25" fill="#da1822"/>
<circle cx="267" cy="510.6" r="1.25" fill="#da1822"/>
<circle cx="275.2" cy="508.2" r="1.25" fill="#da1822"/>
<circle cx="250.1" cy="516.6" r="1.25" fill="#da1822"/>
<circle cx="264.6" cy="519" r="1.25" fill="#da1822"/>
<circle cx="279.5" cy="519" r="1.25" fill="#da1822"/>
<circle cx="281.4" cy="517.8" r="1.25" fill="#da1822"/>
<circle cx="279" cy="520.7" r="1.25" fill="#da1822"/>
<circle cx="250.1" cy="531.1" r="1.25" fill="#da1822"/>
<circle cx="250.1" cy="532.8" r="1.25" fill="#da1822"/>
<circle cx="251.8" cy="540.7" r="1.25" fill="#da1822"/>
<circle cx="258.6" cy="539" r="1.25" fill="#da1822"/>
<circle cx="266.3" cy="525.1" r="1.25" fill="#da1822"/>
<circle cx="268.7" cy="524.6" r="1.25" fill="#da1822"/>
<circle cx="267.5" cy="528" r="1.25" fill="#da1822"/>
<circle cx="269.9" cy="529.9" r="1.25" fill="#da1822"/>
<circle cx="271.1" cy="532.3" r="1.25" fill="#da1822"/>
<circle cx="275.4" cy="527.5" r="1.25" fill="#da1822"/>
<circle cx="275.9" cy="532.8" r="1.25" fill="#da1822"/>
<circle cx="274.7" cy="537.6" r="1.25" fill="#da1822"/>
<circle cx="279" cy="523.9" r="1.25" fill="#da1822"/>
<circle cx="279" cy="532.8" r="1.25" fill="#da1822"/>
<circle cx="279" cy="540.2" r="1.25" fill="#da1822"/>
<circle cx="279" cy="542.4" r="1.25" fill="#da1822"/>
<circle cx="281.9" cy="528" r="1.25" fill="#da1822"/>
<circle cx="283.9" cy="528" r="1.25" fill="#da1822"/>
<circle cx="289.6" cy="531.1" r="1.25" fill="#da1822"/>
<circle cx="297.6" cy="525.5" r="1.25" fill="#da1822"/>
<circle cx="302.4" cy="543.1" r="1.25" fill="#da1822"/>
<circle cx="333" cy="531.1" r="1.25" fill="#da1822"/>
<circle cx="273" cy="564.8" r="1.25" fill="#da1822"/>
<text transform="translate(336.58,469.70) scale(0.9553,1)" font-size="28.49" fill="#111">H</text>
<line x1="371.5" y1="578.2" x2="505.1" y2="578.2" stroke="#a4a4a4" stroke-width="1.7"/>
<line x1="374.0" y1="473.3" x2="374.0" y2="579.7" stroke="#666666" stroke-width="1.15"/>
<line x1="371.5" y1="578.2" x2="374.0" y2="578.2" stroke="#666666" stroke-width="1"/>
<text transform="translate(364.24,581.35) scale(1.0000,1)" font-size="10.60" fill="#111">0</text>
<line x1="371.5" y1="551.975" x2="374.0" y2="551.975" stroke="#666666" stroke-width="1"/>
<text transform="translate(364.10,555.07) scale(1.0000,1)" font-size="10.60" fill="#111">5</text>
<line x1="371.5" y1="525.75" x2="374.0" y2="525.75" stroke="#666666" stroke-width="1"/>
<text transform="translate(358.34,528.90) scale(1.0000,1)" font-size="10.60" fill="#111">10</text>
<line x1="371.5" y1="499.52500000000003" x2="374.0" y2="499.52500000000003" stroke="#666666" stroke-width="1"/>
<text transform="translate(358.20,502.62) scale(1.0000,1)" font-size="10.60" fill="#111">15</text>
<line x1="371.5" y1="473.3" x2="374.0" y2="473.3" stroke="#666666" stroke-width="1"/>
<text transform="translate(358.34,476.45) scale(1.0000,1)" font-size="10.60" fill="#111">20</text>
<line x1="400.2" y1="578.2" x2="400.2" y2="580.0" stroke="#666666" stroke-width="1"/>
<line x1="426.4" y1="578.2" x2="426.4" y2="580.0" stroke="#666666" stroke-width="1"/>
<line x1="452.6" y1="578.2" x2="452.6" y2="580.0" stroke="#666666" stroke-width="1"/>
<line x1="478.8" y1="578.2" x2="478.8" y2="580.0" stroke="#666666" stroke-width="1"/>
<line x1="505.0" y1="578.2" x2="505.0" y2="580.0" stroke="#666666" stroke-width="1"/>
<text transform="translate(366.57,590.60) scale(1.0000,1)" font-size="10.70" fill="#111">0.0</text>
<text transform="translate(392.70,590.60) scale(1.0000,1)" font-size="10.70" fill="#111">0.1</text>
<text transform="translate(418.97,590.60) scale(1.0000,1)" font-size="10.70" fill="#111">0.2</text>
<text transform="translate(445.14,590.58) scale(1.0000,1)" font-size="10.70" fill="#111">0.3</text>
<text transform="translate(471.18,590.60) scale(1.0000,1)" font-size="10.70" fill="#111">0.4</text>
<text transform="translate(497.50,590.60) scale(1.0000,1)" font-size="10.70" fill="#111">0.5</text>
<text transform="translate(407.28,601.95) scale(0.9980,1)" font-size="10.84" fill="#111">Frailty index</text>
<text transform="translate(352.50,562.76) rotate(-90) scale(0.9711,1)" font-size="11.63" fill="#111">LA APD<tspan font-size="6.40" dy="4.65">50</tspan><tspan dy="-4.65"> (ms)</tspan></text>
<text transform="translate(453.38,488.50) scale(1.0745,1)" font-size="10.03" fill="#111">R = -0.21</text>
<text transform="translate(453.91,501.70) scale(1.1046,1)" font-size="9.89" fill="#111"><tspan font-style="italic">P</tspan> = 0.16</text>
<line x1="374.0" y1="536.6" x2="505" y2="546.7" stroke="#111" stroke-width="0.9"/>
<circle cx="382.6" cy="528.2" r="1.25" fill="#111"/>
<circle cx="387.4" cy="548" r="1.25" fill="#111"/>
<circle cx="391.5" cy="532.8" r="1.25" fill="#111"/>
<circle cx="395.8" cy="543.6" r="1.25" fill="#111"/>
<circle cx="398.3" cy="543.6" r="1.25" fill="#111"/>
<circle cx="397.5" cy="535.9" r="1.25" fill="#111"/>
<circle cx="397.5" cy="551.6" r="1.25" fill="#111"/>
<circle cx="399.9" cy="548.7" r="1.25" fill="#111"/>
<circle cx="401.6" cy="534" r="1.25" fill="#111"/>
<circle cx="420.9" cy="506.5" r="1.25" fill="#da1822"/>
<circle cx="416.3" cy="529.9" r="1.25" fill="#da1822"/>
<circle cx="416.3" cy="535.2" r="1.25" fill="#da1822"/>
<circle cx="416.3" cy="540" r="1.25" fill="#da1822"/>
<circle cx="416.3" cy="541.9" r="1.25" fill="#da1822"/>
<circle cx="418.5" cy="549.6" r="1.25" fill="#da1822"/>
<circle cx="425.2" cy="546.7" r="1.25" fill="#da1822"/>
<circle cx="431.3" cy="535.9" r="1.25" fill="#da1822"/>
<circle cx="432" cy="537.6" r="1.25" fill="#da1822"/>
<circle cx="433.7" cy="529.9" r="1.25" fill="#da1822"/>
<circle cx="435.6" cy="531.1" r="1.25" fill="#da1822"/>
<circle cx="433.7" cy="540.7" r="1.25" fill="#da1822"/>
<circle cx="435.6" cy="544.8" r="1.25" fill="#da1822"/>
<circle cx="438" cy="538.8" r="1.25" fill="#da1822"/>
<circle cx="439.7" cy="544.8" r="1.25" fill="#da1822"/>
<circle cx="441.6" cy="538.3" r="1.25" fill="#da1822"/>
<circle cx="442.1" cy="541.4" r="1.25" fill="#da1822"/>
<circle cx="442.1" cy="550.4" r="1.25" fill="#da1822"/>
<circle cx="442.1" cy="561.7" r="1.25" fill="#da1822"/>
<circle cx="446.4" cy="531.6" r="1.25" fill="#da1822"/>
<circle cx="448.9" cy="531.6" r="1.25" fill="#da1822"/>
<circle cx="445.7" cy="543.1" r="1.25" fill="#da1822"/>
<circle cx="446.4" cy="546.3" r="1.25" fill="#da1822"/>
<circle cx="448.9" cy="548" r="1.25" fill="#da1822"/>
<circle cx="446.4" cy="552.8" r="1.25" fill="#da1822"/>
<circle cx="450.5" cy="541.9" r="1.25" fill="#da1822"/>
<circle cx="456.6" cy="552.8" r="1.25" fill="#da1822"/>
<circle cx="465" cy="548.4" r="1.25" fill="#da1822"/>
<circle cx="469.3" cy="552.8" r="1.25" fill="#da1822"/>
<circle cx="501.1" cy="540.2" r="1.25" fill="#da1822"/>
<text transform="translate(515.54,466.60) scale(1.0272,1)" font-size="27.04" fill="#111">I</text>
<line x1="542.7" y1="576.8" x2="676.5" y2="576.8" stroke="#a4a4a4" stroke-width="1.7"/>
<line x1="545.2" y1="471.6" x2="545.2" y2="578.3" stroke="#666666" stroke-width="1.15"/>
<line x1="542.7" y1="576.8" x2="545.2" y2="576.8" stroke="#666666" stroke-width="1"/>
<text transform="translate(535.44,579.95) scale(1.0000,1)" font-size="10.60" fill="#111">0</text>
<line x1="542.7" y1="555.76" x2="545.2" y2="555.76" stroke="#666666" stroke-width="1"/>
<text transform="translate(529.54,558.91) scale(1.0000,1)" font-size="10.60" fill="#111">10</text>
<line x1="542.7" y1="534.72" x2="545.2" y2="534.72" stroke="#666666" stroke-width="1"/>
<text transform="translate(529.54,537.87) scale(1.0000,1)" font-size="10.60" fill="#111">20</text>
<line x1="542.7" y1="513.68" x2="545.2" y2="513.68" stroke="#666666" stroke-width="1"/>
<text transform="translate(529.54,516.82) scale(1.0000,1)" font-size="10.60" fill="#111">30</text>
<line x1="542.7" y1="492.64" x2="545.2" y2="492.64" stroke="#666666" stroke-width="1"/>
<text transform="translate(529.54,495.79) scale(1.0000,1)" font-size="10.60" fill="#111">40</text>
<line x1="542.7" y1="471.6" x2="545.2" y2="471.6" stroke="#666666" stroke-width="1"/>
<text transform="translate(529.54,474.75) scale(1.0000,1)" font-size="10.60" fill="#111">50</text>
<line x1="571.3000000000001" y1="576.8" x2="571.3000000000001" y2="578.5999999999999" stroke="#666666" stroke-width="1"/>
<line x1="597.4000000000001" y1="576.8" x2="597.4000000000001" y2="578.5999999999999" stroke="#666666" stroke-width="1"/>
<line x1="623.5" y1="576.8" x2="623.5" y2="578.5999999999999" stroke="#666666" stroke-width="1"/>
<line x1="649.6" y1="576.8" x2="649.6" y2="578.5999999999999" stroke="#666666" stroke-width="1"/>
<line x1="675.7" y1="576.8" x2="675.7" y2="578.5999999999999" stroke="#666666" stroke-width="1"/>
<text transform="translate(537.77,590.60) scale(1.0000,1)" font-size="10.70" fill="#111">0.0</text>
<text transform="translate(563.80,590.60) scale(1.0000,1)" font-size="10.70" fill="#111">0.1</text>
<text transform="translate(589.97,590.60) scale(1.0000,1)" font-size="10.70" fill="#111">0.2</text>
<text transform="translate(616.04,590.58) scale(1.0000,1)" font-size="10.70" fill="#111">0.3</text>
<text transform="translate(641.98,590.60) scale(1.0000,1)" font-size="10.70" fill="#111">0.4</text>
<text transform="translate(668.20,590.60) scale(1.0000,1)" font-size="10.70" fill="#111">0.5</text>
<text transform="translate(578.47,601.63) scale(0.9945,1)" font-size="10.94" fill="#111">Frailty index</text>
<text transform="translate(521.90,561.16) rotate(-90) scale(1.0484,1)" font-size="10.90" fill="#111">LA APD<tspan font-size="6.00" dy="4.36">90</tspan><tspan dy="-4.36"> (ms)</tspan></text>
<text transform="translate(624.57,489.09) scale(1.0888,1)" font-size="10.01" fill="#111">R = -0.33</text>
<text transform="translate(625.11,502.30) scale(1.1740,1)" font-size="9.30" fill="#111"><tspan font-style="italic">P</tspan> = 0.03</text>
<line x1="545.2" y1="533" x2="677.5" y2="553.4" stroke="#111" stroke-width="0.9"/>
<circle cx="553.8" cy="525.5" r="1.25" fill="#111"/>
<circle cx="557.9" cy="538.3" r="1.25" fill="#111"/>
<circle cx="562.2" cy="532.2" r="1.25" fill="#111"/>
<circle cx="566.3" cy="527.9" r="1.25" fill="#111"/>
<circle cx="567" cy="532.2" r="1.25" fill="#111"/>
<circle cx="568.7" cy="532.7" r="1.25" fill="#111"/>
<circle cx="568.7" cy="539.5" r="1.25" fill="#111"/>
<circle cx="570.6" cy="538.5" r="1.25" fill="#111"/>
<circle cx="572.8" cy="530.3" r="1.25" fill="#111"/>
<circle cx="587.5" cy="528.6" r="1.25" fill="#da1822"/>
<circle cx="587.5" cy="544.3" r="1.25" fill="#da1822"/>
<circle cx="587.5" cy="546" r="1.25" fill="#da1822"/>
<circle cx="589.9" cy="552" r="1.25" fill="#da1822"/>
<circle cx="587.5" cy="561.6" r="1.25" fill="#da1822"/>
<circle cx="595.9" cy="564.3" r="1.25" fill="#da1822"/>
<circle cx="602.4" cy="518.5" r="1.25" fill="#da1822"/>
<circle cx="604.3" cy="523.8" r="1.25" fill="#da1822"/>
<circle cx="602.4" cy="526.7" r="1.25" fill="#da1822"/>
<circle cx="602.4" cy="531.5" r="1.25" fill="#da1822"/>
<circle cx="604.8" cy="537.1" r="1.25" fill="#da1822"/>
<circle cx="606.5" cy="536.3" r="1.25" fill="#da1822"/>
<circle cx="607.7" cy="542.3" r="1.25" fill="#da1822"/>
<circle cx="609.2" cy="543.1" r="1.25" fill="#da1822"/>
<circle cx="612.1" cy="540.7" r="1.25" fill="#da1822"/>
<circle cx="613.3" cy="550.3" r="1.25" fill="#da1822"/>
<circle cx="610.8" cy="563.1" r="1.25" fill="#da1822"/>
<circle cx="612.1" cy="562.3" r="1.25" fill="#da1822"/>
<circle cx="613.3" cy="561.1" r="1.25" fill="#da1822"/>
<circle cx="616.9" cy="534.2" r="1.25" fill="#da1822"/>
<circle cx="618.1" cy="535.8" r="1.25" fill="#da1822"/>
<circle cx="619.8" cy="537.5" r="1.25" fill="#da1822"/>
<circle cx="621.2" cy="537.5" r="1.25" fill="#da1822"/>
<circle cx="616.9" cy="543.1" r="1.25" fill="#da1822"/>
<circle cx="616.9" cy="549.1" r="1.25" fill="#da1822"/>
<circle cx="617.6" cy="550.3" r="1.25" fill="#da1822"/>
<circle cx="619.3" cy="558.2" r="1.25" fill="#da1822"/>
<circle cx="627.7" cy="544.3" r="1.25" fill="#da1822"/>
<circle cx="636.1" cy="539.9" r="1.25" fill="#da1822"/>
<circle cx="640.5" cy="554.4" r="1.25" fill="#da1822"/>
<circle cx="672.2" cy="540.7" r="1.25" fill="#da1822"/>
</svg>
</body></html>
